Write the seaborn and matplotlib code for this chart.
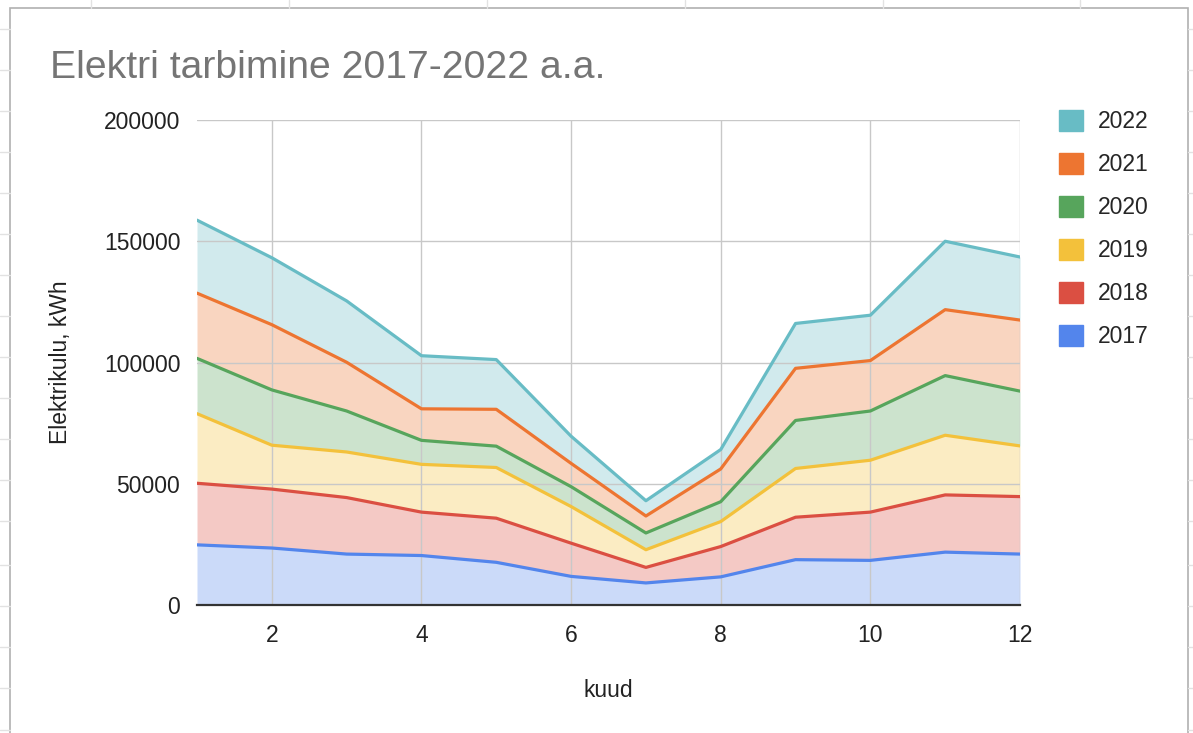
import numpy as np
import pandas as pd
import matplotlib.pyplot as plt
import seaborn as sns
from matplotlib.patches import Patch, Rectangle
from matplotlib.lines import Line2D

# Andmed: kuude elektritarbimine aastate kaupa (kWh)
kuud = list(range(1, 13))
aastad = ["2017", "2018", "2019", "2020", "2021", "2022"]
v2017 = [24800, 23500, 21000, 20400, 17600, 11800, 9100, 11600, 18700, 18400, 21800, 21000]
v2018 = [25400, 24300, 23300, 17900, 18200, 13700, 6400, 12500, 17500, 19900, 23600, 23700]
v2019 = [28700, 18100, 18800, 19700, 20900, 15100, 7300, 10300, 20100, 21400, 24600, 20900]
v2020 = [22800, 22800, 16900, 9900, 8800, 8200, 6900, 8200, 19800, 20300, 24600, 22600]
v2021 = [26900, 26900, 20100, 13000, 15200, 9600, 7000, 13500, 21500, 20800, 27200, 29300]
v2022 = [30100, 27600, 25300, 21900, 20500, 11200, 6300, 8000, 18500, 18700, 28200, 26000]
y_ticks = [0, 50000, 100000, 150000, 200000]
x_ticks = [2, 4, 6, 8, 10, 12]

varvid = ["#5385ec", "#db4f42", "#f3c13b", "#57a55c", "#ed7531", "#68bcc5"]

sns.set_style("whitegrid")
plt.rcParams['font.family'] = ['Liberation Sans', 'DejaVu Sans']

seeriad = [v2017, v2018, v2019, v2020, v2021, v2022]
kumul = np.cumsum(np.array(seeriad), axis=0)

# pikk tabel kumulatiivsete joonte jaoks
read = []
for i, a in enumerate(aastad):
    for k, v in zip(kuud, kumul[i]):
        read.append({"kuu": k, "aasta": a, "kumul": v})
df = pd.DataFrame(read)

fig = plt.figure(figsize=(11.93, 7.33), dpi=100)
ax = fig.add_axes([197 / 1193, 1 - 605 / 733, (1020 - 197) / 1193, (605 - 120) / 733])

ax.stackplot(kuud, *seeriad, colors=varvid, alpha=0.3, linewidth=0, zorder=2)
sns.lineplot(data=df, x="kuu", y="kumul", hue="aasta", palette=dict(zip(aastad, varvid)),
             linewidth=2.3, legend=False, ax=ax, zorder=3)

ax.set_xlim(1, 12)
ax.set_ylim(0, 200000)
ax.set_xticks(x_ticks)
ax.set_yticks(y_ticks)
ax.tick_params(axis='both', length=0, labelsize=16.5, colors="#222222")
ax.tick_params(axis='y', pad=12)
ax.tick_params(axis='x', pad=14)
ax.grid(True, color="#c8c8c8", linewidth=1.0, zorder=1)
ax.set_axisbelow(False)
for s in ["top", "left", "right"]:
    ax.spines[s].set_visible(False)
ax.spines["bottom"].set_color("#333333")
ax.spines["bottom"].set_linewidth(1.6)
ax.spines["bottom"].set_zorder(4)

ax.set_xlabel("kuud", fontsize=16.5, color="#222222", labelpad=23)
ax.set_ylabel("Elektrikulu, kWh", fontsize=16.5, color="#222222", labelpad=23)

fig.text(50 / 1193, 1 - 78 / 733, "Elektri tarbimine 2017-2022 a.a.", fontsize=28.2,
         color="#757575", va="baseline", ha="left")

handles = [Patch(facecolor=c, edgecolor=c) for c in varvid][::-1]
ax.legend(handles, aastad[::-1], loc="upper left", bbox_to_anchor=(1059 / 1193, 1 - 110 / 733),
          bbox_transform=fig.transFigure, frameon=False, fontsize=16.5,
          handlelength=1.05, handleheight=1.05, handletextpad=0.65, labelspacing=0.85,
          borderpad=0, borderaxespad=0)

# tabelarvutuse taust ja diagrammi raam
for x in [91, 289, 487, 685, 883, 1080]:
    fig.add_artist(Line2D([x / 1193, x / 1193], [1, 1 - 8 / 733], color="#e2e2e2", lw=1))
for y in [29, 70, 111, 152, 193, 234, 275, 316, 357, 398, 439, 480, 521, 565, 606, 647, 688, 730]:
    fig.add_artist(Line2D([0, 10 / 1193], [1 - y / 733, 1 - y / 733], color="#e2e2e2", lw=1))
    fig.add_artist(Line2D([1188 / 1193, 1], [1 - y / 733, 1 - y / 733], color="#e2e2e2", lw=1))
fig.add_artist(Rectangle((10 / 1193, -0.01), (1188 - 10) / 1193, 1.01 - 8 / 733,
                         transform=fig.transFigure, fill=False, edgecolor="#b0b0b0", lw=1.2))

fig.savefig("out.png", dpi=100)
